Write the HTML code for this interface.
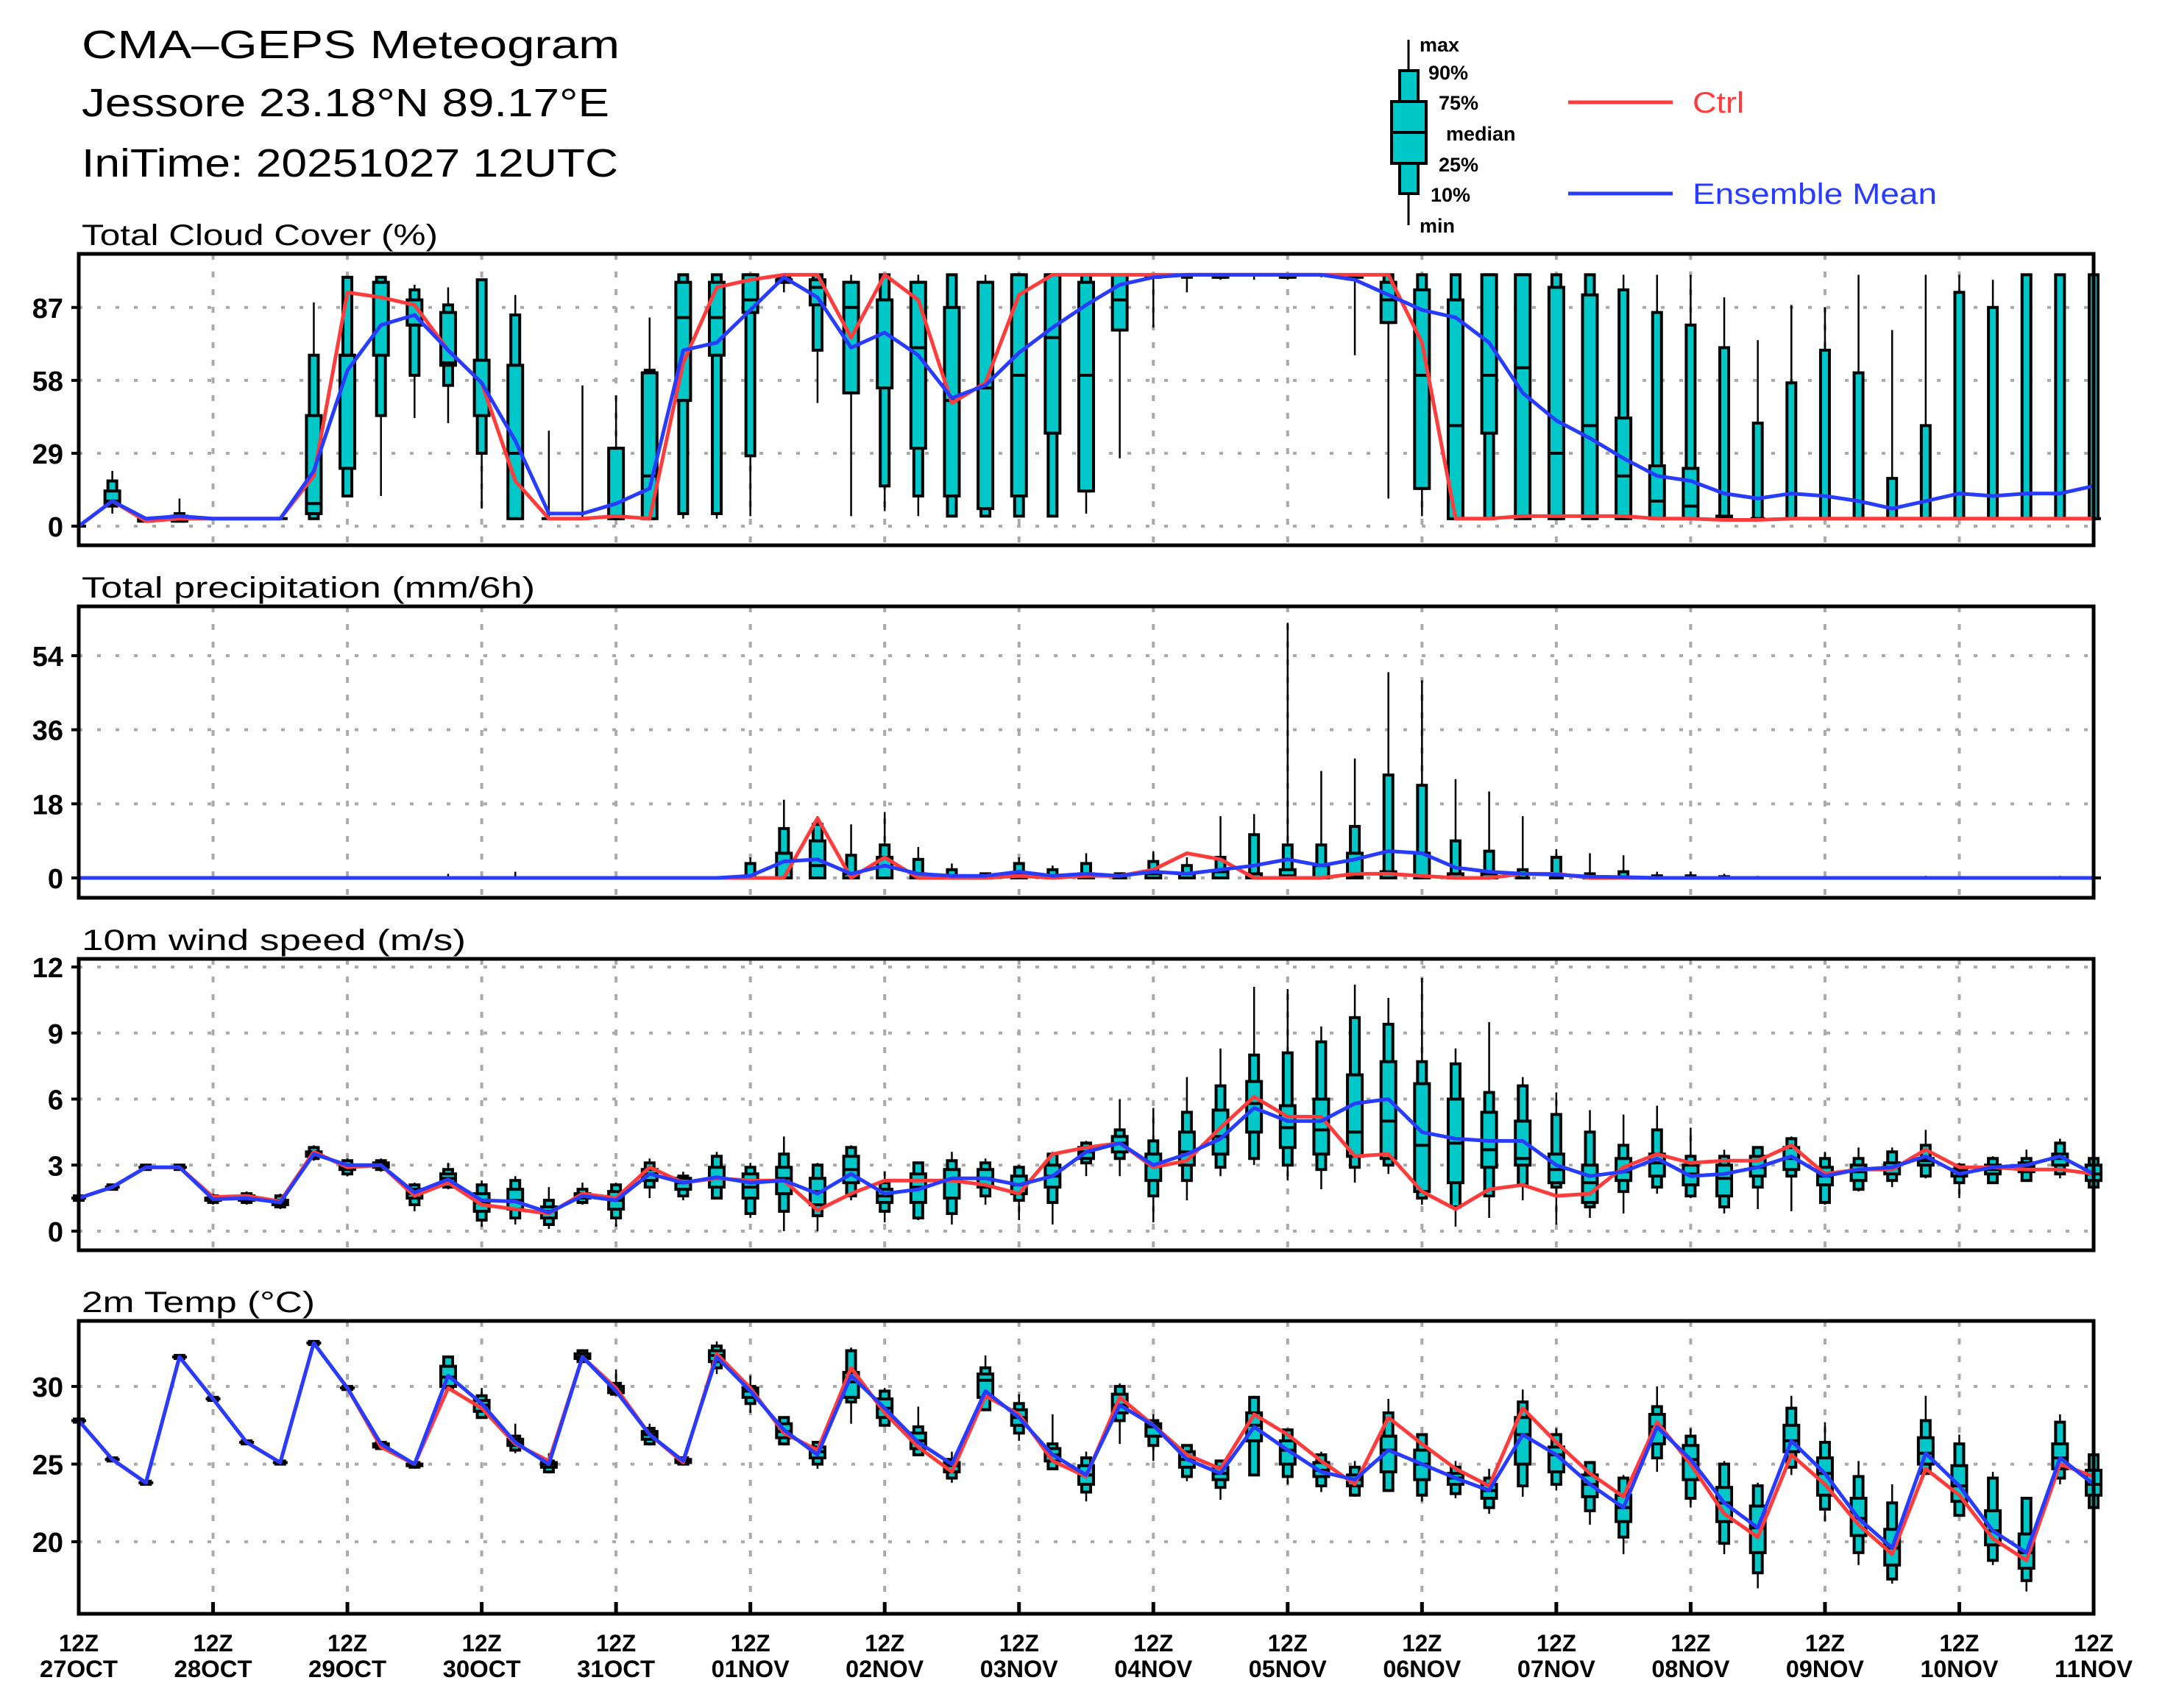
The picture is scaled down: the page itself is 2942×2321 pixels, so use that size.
<!DOCTYPE html>
<html><head><meta charset="utf-8"><style>
html,body{margin:0;padding:0;background:#fff;}
svg{display:block;}
</style></head><body>
<svg id="chart" width="2942" height="2321" viewBox="0 0 2942 2321" xmlns="http://www.w3.org/2000/svg" font-family="Liberation Sans, sans-serif">
<rect x="0" y="0" width="2942" height="2321" fill="#fff"/>
<g>
<text x="111" y="79" font-size="54" textLength="731" lengthAdjust="spacingAndGlyphs">CMA–GEPS Meteogram</text>
<text x="111" y="158" font-size="54" textLength="717" lengthAdjust="spacingAndGlyphs">Jessore 23.18°N 89.17°E</text>
<text x="111" y="240" font-size="54" textLength="729" lengthAdjust="spacingAndGlyphs">IniTime: 20251027 12UTC</text>
</g>
<g>
<line x1="1914" y1="54" x2="1914" y2="306" stroke="#000" stroke-width="3"/>
<rect x="1902" y="96" width="25" height="167" fill="#00C8C8" stroke="#000" stroke-width="4"/>
<rect x="1891" y="138" width="47" height="84" fill="#00C8C8" stroke="#000" stroke-width="4"/>
<line x1="1891" y1="180" x2="1938" y2="180" stroke="#000" stroke-width="4"/>
<g font-size="27" font-weight="bold">
<text x="1929" y="70">max</text>
<text x="1941" y="108">90%</text>
<text x="1955" y="149">75%</text>
<text x="1965" y="191">median</text>
<text x="1955" y="233">25%</text>
<text x="1944" y="274">10%</text>
<text x="1929" y="316">min</text>
</g>
<line x1="2131" y1="139" x2="2273" y2="139" stroke="#FF3C3C" stroke-width="5"/>
<text x="2300" y="153" font-size="40" fill="#FF3C3C" textLength="70" lengthAdjust="spacingAndGlyphs">Ctrl</text>
<line x1="2131" y1="263" x2="2273" y2="263" stroke="#283CFF" stroke-width="5"/>
<text x="2300" y="277" font-size="40" fill="#283CFF" textLength="332" lengthAdjust="spacingAndGlyphs">Ensemble Mean</text>
</g>
<g id="plots"></g>
</svg>
<script>
// ---- Total Cloud Cover (%) ----
const ccMin=[0,5,2,2,3,3,3,3,12,12,43,41,7,3,3,3,3,3,3,3,4,93,49,4,6,4,4,4,4,4,5,27,79,93,98,98,98,99,68,11,4,3,3,3,3,3,3,3,3,3,3,3,3,3,3,3,3,3,3,3,3];
const ccP10=[0,8,2,2,3,3,3,3,12,44,60,56,29,3,3,3,3,3,5,5,28,97,70,53,16,12,4,4,4,4,14,78,99,99,99,100,99,100,99,81,15,3,3,3,3,3,3,3,3,3,3,3,3,3,3,3,3,3,3,3,3];
const ccP25=[0,9,2,2,3,3,3,5,23,68,80,64,44,3,3,3,3,3,50,68,85,97,88,53,55,31,12,7,12,37,14,78,99,100,99,100,99,100,99,81,15,3,37,3,3,3,3,3,3,3,3,3,3,3,3,3,3,3,3,3,3];
const ccMed=[0,10,3,3,3,3,3,9,68,97,80,65,66,29,3,3,3,20,83,83,90,99,95,87,90,71,50,55,60,75,60,90,100,100,100,100,100,100,100,90,60,40,60,63,29,40,20,10,8,3,3,3,3,3,3,3,3,3,3,3,3];
const ccP75=[0,14,3,4,3,3,3,44,68,97,90,85,66,64,3,3,31,61,97,97,100,98,98,97,90,97,87,97,100,100,97,100,100,100,100,100,100,100,100,97,94,90,100,100,95,92,43,24,23,4,3,3,3,3,3,3,3,3,3,3,3];
const ccP90=[0,18,3,5,3,3,3,68,99,99,94,88,98,84,3,3,31,62,100,100,100,98,100,97,100,97,100,97,100,100,100,100,100,100,100,100,100,100,100,100,100,100,100,100,100,100,94,85,80,71,41,57,70,61,19,40,93,87,100,100,100];
const ccMax=[0,22,3,11,3,3,3,89,99,99,96,95,98,92,38,56,52,83,100,100,100,100,100,100,100,100,100,100,100,100,100,100,100,100,100,100,100,100,100,100,100,100,100,100,100,100,100,100,100,91,74,88,87,100,78,100,100,98,100,100,100];
const ccCtrl=[0,10,2,3,3,3,3,20,93,91,88,70,57,18,3,3,4,3,65,95,98,100,100,75,100,90,49,57,92,100,100,100,100,100,100,100,100,100,100,100,73,3,3,4,4,4,4,3,3,2.5,2.5,3,3,3,3,3,3,3,3,3,3];
const ccMean=[0,10,3,4,3,3,3,22,62,80,84,70,57,34,5,5,9,15,70,73,86,99,91,71,77,68,51,56,69,79,88,96,99,100,100,100,100,100,98,92,86,83,73,53,42,35,27,20,18,13,11,13,12,10,7,10,13,12,13,13,16];
const ccTicks=[0,29,58,87];

// ---- Total precipitation (mm/6h) ----
const prMin=[0,0,0,0,0,0,0,0,0,0,0,0,0,0,0,0,0,0,0,0,0,0,0,0,0,0,0,0,0,0,0,0,0,0,0,0,0,0,0,0,0,0,0,0,0,0,0,0,0,0,0,0,0,0,0,0,0,0,0,0,0];
const prP10=[0,0,0,0,0,0,0,0,0,0,0,0,0,0,0,0,0,0,0,0,0,0,0,0,0,0,0,0,0,0,0,0,0,0,0,0,0,0,0,0,0,0,0,0,0,0,0,0,0,0,0,0,0,0,0,0,0,0,0,0,0];
const prP25=[0,0,0,0,0,0,0,0,0,0,0,0,0,0,0,0,0,0,0,0,0,0,0,0,0,0,0,0,0,0,0,0,0,0,0,0,0,0,0,0,0,0,0,0,0,0,0,0,0,0,0,0,0,0,0,0,0,0,0,0,0];
const prMed=[0,0,0,0,0,0,0,0,0,0,0,0,0,0,0,0,0,0,0,0,0,0,3,0,0,0,0,0,0,0,0,0,0,0,0,0,0.5,0,0.5,1,0,0,0,0,0,0,0,0,0,0,0,0,0,0,0,0,0,0,0,0,0];
const prP75=[0,0,0,0,0,0,0,0,0,0,0,0,0,0,0,0,0,0,0,0,0,6,9,1,5,1,0,0,1,0,1,0,1,1,1.5,1,2,3,6,1.5,6,1,1,0,0,0,0,0,0,0,0,0,0,0,0,0,0,0,0,0,0];
const prP90=[0,0,0,0,0,0,0,0,0,0,0,0,0,0,0,0,0,0,0,0,3.5,12,13,5.5,8,4.5,2,1,3.5,2,3.5,1,4,3,5,10.5,8,8,12.5,25,22.5,9,6.5,2,5,1,1.5,0.5,0.5,0.3,0,0,0,0,0,0,0,0,0,0,0];
const prMax=[0,0,0,0,0,0,0,0,0,0,0,1,0,1.5,0,0,0,0,0,0,5,19,15,13,16,7.5,3.5,1,5,3,6,1,6.5,5,15,15.5,62,26,29,50,48,24,21,15,7,6,5.5,1.5,1.5,1,0.5,0,0,0,0,0.5,0,0,0,0.5,0];
const prCtrl=[0,0,0,0,0,0,0,0,0,0,0,0,0,0,0,0,0,0,0,0,0,0,14.5,0,5,0,0,0,0.5,0,0.5,0.5,2,6,4.5,0,0,0,1,1,0.5,0,0,1,1,0,0,0,0,0,0,0,0,0,0,0,0,0,0,0,0];
const prMean=[0,0,0,0,0,0,0,0,0,0,0,0,0,0,0,0,0,0,0,0,0.5,4,4.5,1,3,1,0.5,0.5,1.5,0.5,1,0.5,1.5,1,2,3,4.5,3,4.5,6.5,6,2.5,1.5,1,0.8,0.3,0.2,0,0,0,0,0,0,0,0,0,0,0,0,0,0];
const prTicks=[0,18,36,54];

// ---- 10m wind speed (m/s) ----
const wsMin=[1.4,1.9,2.8,2.8,1.2,1.2,1.0,3.2,2.5,2.7,0.9,1.9,0.2,0.3,0.1,1.2,0.2,1.5,1.4,1.5,0.6,0.0,0.0,1.4,0.4,0.5,0.3,1.2,0.5,0.3,2.5,2.5,0.4,1.4,2.5,3.0,2.3,1.9,2.2,2.6,1.2,0.2,0.6,1.4,0.3,0.6,0.8,1.7,1.5,0.8,1.0,0.9,1.2,1.8,2.0,2.4,1.5,2.2,2.3,2.4,1.9];
const wsP10=[1.4,1.9,2.8,2.8,1.3,1.3,1.1,3.3,2.6,2.8,1.2,2.0,0.5,0.6,0.3,1.3,0.6,2.0,1.6,1.5,0.8,0.9,0.7,1.6,0.9,0.6,0.8,1.6,1.4,1.3,3.1,3.3,1.6,2.3,2.9,3.3,3.0,2.8,2.9,3.0,1.5,1.1,1.6,2.1,2.0,1.1,1.8,2.0,1.6,1.1,2.0,2.5,1.3,1.9,2.3,2.5,2.2,2.2,2.3,2.6,2.0];
const wsP25=[1.5,2.0,2.9,2.9,1.4,1.4,1.2,3.4,2.8,2.9,1.5,2.2,0.9,1.0,0.6,1.5,1.0,2.3,1.9,2.0,1.5,1.7,1.2,2.2,1.3,1.3,1.5,2.0,1.7,2.0,3.3,3.6,2.3,3.0,3.5,4.5,3.8,3.5,3.4,3.3,1.8,2.2,2.9,3.0,2.2,1.3,2.3,2.5,2.1,1.6,2.5,2.8,2.1,2.3,2.6,3.0,2.5,2.6,2.7,3.0,2.3];
const wsMed=[1.5,2.0,2.9,2.9,1.5,1.5,1.3,3.5,2.9,3.0,1.7,2.4,1.3,1.4,0.9,1.6,1.4,2.6,2.2,2.4,2.0,2.4,1.8,2.8,1.6,2.0,2.3,2.4,2.1,2.5,3.6,4.0,3.0,3.6,4.3,5.8,4.7,4.6,4.5,5.0,3.9,4.0,3.7,3.3,2.8,2.2,2.7,3.1,2.6,2.4,2.9,3.3,2.5,2.7,2.9,3.2,2.7,2.8,2.9,3.3,2.6];
const wsP75=[1.5,2.0,2.9,2.9,1.5,1.6,1.4,3.6,3.0,3.1,1.9,2.6,1.7,1.9,1.1,1.7,1.8,2.8,2.4,2.9,2.6,2.9,2.4,3.4,1.9,2.6,2.8,2.8,2.5,3.0,3.8,4.3,3.5,4.5,5.5,6.8,5.7,6.0,7.1,7.7,6.7,6.0,5.4,5.0,3.5,3.0,3.3,3.5,3.0,3.0,3.4,3.8,2.9,3.0,3.1,3.3,2.8,3.0,3.1,3.5,3.0];
const wsP90=[1.6,2.1,3.0,3.0,1.6,1.7,1.6,3.8,3.2,3.2,2.1,2.8,2.1,2.3,1.4,1.9,2.1,3.1,2.5,3.4,2.9,3.5,3.0,3.8,2.2,3.1,3.2,3.1,2.9,3.5,4.0,4.6,4.1,5.4,6.6,8.0,8.1,8.6,9.7,9.4,7.7,7.6,6.3,6.6,5.3,4.5,3.9,4.6,3.4,3.4,3.8,4.2,3.3,3.3,3.6,3.9,3.0,3.3,3.3,4.0,3.3];
const wsMax=[1.6,2.1,3.0,3.0,1.7,1.8,1.7,3.9,3.3,3.3,2.2,3.1,2.3,2.5,2.0,2.2,2.2,3.3,2.7,3.6,3.1,4.3,3.1,3.9,2.7,3.1,3.6,3.3,3.0,3.6,4.1,6.0,5.6,7.0,8.3,11.1,11.0,9.3,11.2,10.6,11.5,8.3,9.5,7.0,6.3,5.5,5.3,5.7,4.7,3.7,3.8,4.3,3.6,3.8,3.8,4.6,3.1,3.4,3.7,4.2,3.3];
const wsCtrl=[1.5,2.0,2.9,2.9,1.55,1.6,1.35,3.6,2.9,3.0,1.6,2.2,1.2,1.0,0.8,1.7,1.5,2.9,2.2,2.4,2.3,2.3,0.95,1.7,2.3,2.3,2.3,2.1,1.7,3.5,3.8,4.0,2.9,3.2,4.7,6.1,5.2,5.2,3.4,3.5,1.8,1.0,1.9,2.1,1.6,1.7,2.9,3.5,3.1,3.2,3.2,3.9,2.6,2.8,2.8,3.7,2.9,2.9,2.8,2.8,2.6];
const wsMean=[1.5,2.0,2.9,2.9,1.45,1.5,1.3,3.5,3.0,3.0,1.75,2.35,1.4,1.35,0.85,1.6,1.4,2.6,2.2,2.45,2.2,2.3,1.7,2.6,1.7,1.9,2.4,2.4,2.1,2.5,3.6,4.0,3.0,3.5,4.2,5.6,5.0,5.0,5.8,6.0,4.5,4.2,4.1,4.1,3.0,2.5,2.7,3.3,2.5,2.6,2.9,3.4,2.5,2.8,2.9,3.4,2.6,2.9,3.0,3.4,2.6];
const wsTicks=[0,3,6,9,12];

// ---- 2m Temp (°C) ----
const tMin=[27.7,25.2,23.7,31.8,29.1,26.3,25.0,32.7,29.8,26.0,24.7,29.8,28.0,25.7,24.4,31.5,29.4,26.2,24.9,30.8,28.3,26.2,24.7,27.6,27.5,25.6,23.8,28.5,26.5,24.7,22.6,26.3,25.2,23.9,22.7,24.3,23.7,23.2,22.9,23.3,22.6,22.8,21.8,22.9,23.3,21.1,19.2,24.5,22.2,19.2,17.0,24.3,21.3,18.5,17.3,24.3,21.7,18.5,16.8,23.7,22.2];
const tP10=[27.7,25.2,23.7,31.8,29.1,26.3,25.0,32.7,29.8,26.0,24.8,29.9,28.0,25.9,24.5,31.6,29.5,26.3,25.0,31.2,28.9,26.3,25.0,29.0,27.5,25.6,24.1,28.5,27.0,24.7,23.2,27.8,26.2,24.2,23.5,24.3,24.2,23.6,23.0,23.3,23.0,23.1,22.2,23.6,23.7,22.0,20.3,25.4,22.8,19.9,18.0,24.8,22.1,19.3,17.6,24.4,21.7,18.8,17.5,24.1,22.2];
const tP25=[27.8,25.3,23.8,31.9,29.2,26.4,25.1,32.8,29.9,26.1,24.9,30.0,28.4,26.2,24.8,31.8,29.6,26.6,25.1,31.6,29.3,26.7,25.4,29.3,28.0,26.0,24.5,29.3,27.5,25.2,23.7,28.3,26.8,24.8,24.0,26.5,25.0,24.2,23.6,24.5,24.0,23.7,22.8,25.0,24.5,22.9,21.3,26.3,24.0,21.3,19.3,25.8,23.0,20.4,18.5,25.0,22.6,19.8,18.3,24.7,23.0];
const tMed=[27.8,25.3,23.8,31.9,29.2,26.4,25.1,32.8,29.9,26.2,25.0,30.6,28.8,26.4,25.0,31.9,29.8,26.9,25.2,32.0,29.7,27.1,25.8,30.3,28.6,26.5,24.9,30.4,28.0,25.6,24.3,28.8,27.4,25.3,24.4,27.5,25.9,24.6,24.0,25.9,25.0,24.1,23.3,26.9,25.6,23.7,22.2,27.4,25.3,22.5,20.9,26.5,24.4,21.5,19.6,25.7,23.6,20.7,19.3,25.4,23.7];
const tP75=[27.8,25.3,23.8,31.9,29.2,26.4,25.1,32.8,29.9,26.3,25.0,31.3,29.1,26.6,25.1,32.1,30.0,27.1,25.3,32.3,29.9,27.6,26.1,30.9,29.2,27.0,25.1,30.8,28.5,26.0,24.9,29.5,27.6,25.8,24.8,28.3,26.5,25.1,24.3,26.8,25.9,24.4,23.7,28.0,26.1,24.3,23.0,28.2,26.2,23.5,22.3,27.5,25.4,22.8,20.8,26.7,24.9,22.0,20.5,26.3,24.6];
const tP90=[27.9,25.4,23.9,32.0,29.3,26.5,25.2,32.9,30.0,26.4,25.1,31.9,29.4,26.8,25.2,32.3,30.2,27.3,25.4,32.6,30.0,28.0,26.4,32.3,29.7,27.4,25.3,31.2,28.9,26.3,25.4,30.0,27.8,26.2,25.2,29.3,27.2,25.6,24.8,28.3,26.9,24.8,24.1,29.0,26.9,25.1,24.1,28.7,26.8,25.0,23.6,28.6,26.4,24.2,22.5,27.8,26.3,24.1,22.8,27.7,25.6];
const tMax=[27.9,25.4,23.9,32.0,29.3,26.5,25.2,32.9,30.0,26.4,25.2,32.0,29.9,27.6,25.7,32.4,31.1,27.6,25.5,32.9,30.7,28.0,26.4,32.5,29.9,28.7,25.8,32.0,29.5,28.2,25.8,30.2,28.2,26.2,25.2,29.4,27.3,25.8,25.2,29.2,26.9,25.2,24.7,29.8,27.3,25.2,24.3,30.0,27.3,25.2,23.8,29.4,27.7,25.2,23.7,29.4,26.9,24.5,22.8,28.2,25.6];
const tCtrl=[27.8,25.3,23.8,31.9,29.2,26.4,25.1,32.8,29.9,26.1,25.0,29.9,28.6,26.3,25.2,31.9,29.9,26.9,25.1,32.1,29.9,27.0,25.9,31.2,28.3,26.1,24.5,29.4,28.2,25.2,24.2,29.3,27.5,25.6,24.7,28.2,26.9,25.2,23.7,28.0,26.3,24.7,23.6,28.6,26.4,24.4,22.9,27.7,25.0,21.8,20.3,25.6,23.7,21.1,19.2,24.7,23.0,20.2,18.8,25.0,24.2];
const tMean=[27.8,25.3,23.8,31.9,29.2,26.4,25.1,32.8,29.9,26.3,25.0,30.7,28.9,26.4,25.0,31.9,29.7,26.9,25.2,31.9,29.7,27.2,25.6,30.7,28.6,26.4,25.0,29.7,28.0,25.6,24.3,28.8,27.5,25.3,24.4,27.4,25.9,24.5,24.0,25.9,25.0,24.1,23.3,26.9,25.6,23.7,22.2,27.4,25.3,22.5,20.9,26.5,24.4,21.5,19.6,25.7,23.6,20.7,19.3,25.4,23.7];
const tTicks=[20,25,30];

const dayLabels=["27OCT","28OCT","29OCT","30OCT","31OCT","01NOV","02NOV","03NOV","04NOV","05NOV","06NOV","07NOV","08NOV","09NOV","10NOV","11NOV"];

const NS="http://www.w3.org/2000/svg";
const X0=107, X1=2845, NSTEP=60;
const plots=document.getElementById('plots');
function sx(i){return X0+i*(X1-X0)/NSTEP;}
function mk(tag,attrs,parent){const e=document.createElementNS(NS,tag);for(const k in attrs)e.setAttribute(k,attrs[k]);(parent||plots).appendChild(e);return e;}

const panels=[
 {key:'cloud',title:'Total Cloud Cover (%)',tw:484,top:345,bot:741,vmin:-7.6,vmax:108.3,ticks:ccTicks,
  mn:ccMin,p10:ccP10,p25:ccP25,md:ccMed,p75:ccP75,p90:ccP90,mx:ccMax,ctrl:ccCtrl,mean:ccMean},
 {key:'precip',title:'Total precipitation (mm/6h)',tw:616,top:824,bot:1220,vmin:-4.83,vmax:65.98,ticks:prTicks,
  mn:prMin,p10:prP10,p25:prP25,md:prMed,p75:prP75,p90:prP90,mx:prMax,ctrl:prCtrl,mean:prMean},
 {key:'wind',title:'10m wind speed (m/s)',tw:522,top:1303,bot:1699,vmin:-0.87,vmax:12.37,ticks:wsTicks,
  mn:wsMin,p10:wsP10,p25:wsP25,md:wsMed,p75:wsP75,p90:wsP90,mx:wsMax,ctrl:wsCtrl,mean:wsMean},
 {key:'temp',title:'2m Temp (°C)',tw:317,top:1795,bot:2193,vmin:15.36,vmax:34.22,ticks:tTicks,
  mn:tMin,p10:tP10,p25:tP25,md:tMed,p75:tP75,p90:tP90,mx:tMax,ctrl:tCtrl,mean:tMean}
];

panels.forEach(p=>{
  const g=mk('g',{});
  
  
  const sy=v=>p.top+(p.vmax-v)/(p.vmax-p.vmin)*(p.bot-p.top);
  // title
  const t=mk('text',{x:111,y:p.top-12,'font-size':40,textLength:p.tw,lengthAdjust:'spacingAndGlyphs'},g);
  t.textContent=p.title;
  
  
  // horizontal grid + y labels
  p.ticks.forEach(v=>{
    const y=sy(v);
    const gl=mk('line',{x1:X0,y1:y,x2:X1,y2:y,stroke:'#AAAAAA','stroke-width':4,'stroke-dasharray':'5 20'},g);
    
    
    mk('line',{x1:X0-10,y1:y,x2:X0,y2:y,stroke:'#000','stroke-width':4},g);
    const tl=mk('text',{x:86,y:y+14,'font-size':38,'font-weight':'bold','text-anchor':'end'},g);
    tl.textContent=String(v);
    
    
  });
  // vertical day grid
  for(let d=0;d<=15;d++){
    const x=sx(d*4);
    const vl=mk('line',{x1:x,y1:p.top,x2:x,y2:p.bot,stroke:'#AAAAAA','stroke-width':4,'stroke-dasharray':'8 16'},g);
    
    
  }
  // boxes
  for(let i=0;i<p.mn.length;i++){
    const x=sx(i);
    const bg=mk('g',{},g);
    
    
    mk('line',{x1:x,y1:sy(p.mx[i]),x2:x,y2:sy(p.mn[i]),stroke:'#000','stroke-width':2.5},bg);
    const y90=sy(p.p90[i]), y10=sy(p.p10[i]);
    mk('rect',{x:x-6,y:y90,width:12,height:Math.max(0,y10-y90),fill:'#00C8C8',stroke:'#000','stroke-width':4},bg);
    const y75=sy(p.p75[i]), y25=sy(p.p25[i]);
    mk('rect',{x:x-10,y:y75,width:20,height:Math.max(0,y25-y75),fill:'#00C8C8',stroke:'#000','stroke-width':4},bg);
    const ym=sy(p.md[i]);
    mk('line',{x1:x-10,y1:ym,x2:x+10,y2:ym,stroke:'#000','stroke-width':4},bg);
  }
  // lines
  const pts=a=>a.map((v,i)=>sx(i).toFixed(1)+','+sy(v).toFixed(1)).join(' ');
  const cl=mk('polyline',{points:pts(p.ctrl),fill:'none',stroke:'#FF3C3C','stroke-width':5,'stroke-linejoin':'round'},g);
  
  
  const ml=mk('polyline',{points:pts(p.mean),fill:'none',stroke:'#283CFF','stroke-width':5,'stroke-linejoin':'round'},g);
  
  
  // frame
  const fr=mk('rect',{x:X0,y:p.top,width:X1-X0,height:p.bot-p.top,fill:'none',stroke:'#000','stroke-width':5},g);
  
  
  if(p.key==='temp'){
    for(let d=0;d<=15;d++){
      const x=sx(d*4);
      mk('line',{x1:x,y1:p.bot,x2:x,y2:p.bot-16,stroke:'#000','stroke-width':5},g);
      const a=mk('text',{x:x,y:2244,'font-size':32,'font-weight':'bold','text-anchor':'middle',textLength:54,lengthAdjust:'spacingAndGlyphs'},g);
      a.textContent='12Z';
      
      
      const b=mk('text',{x:x,y:2279,'font-size':32,'font-weight':'bold','text-anchor':'middle',textLength:106,lengthAdjust:'spacingAndGlyphs'},g);
      b.textContent=dayLabels[d];
      
      
    }
  }
});
</script>
</body></html>
